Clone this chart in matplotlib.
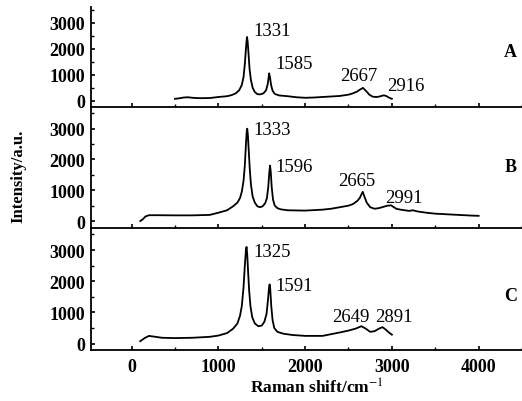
import matplotlib
matplotlib.use("Agg")
import matplotlib.pyplot as plt
from matplotlib.ticker import MultipleLocator

plt.rcParams['font.family'] = ['Liberation Serif', 'DejaVu Serif']
plt.rcParams['mathtext.fontset'] = 'stix'

# --------------------------------------------------
# Spectra
# --------------------------------------------------
xA = [500, 550, 600, 650, 700, 750, 800, 900, 1000, 1100, 1150, 1200, 1240, 1270,
      1290, 1305, 1318, 1328, 1331, 1338, 1348, 1360, 1375, 1395, 1420, 1450, 1480,
      1520, 1550, 1570, 1585, 1595, 1608, 1625, 1650, 1700, 1800, 1900, 2000, 2100,
      2200, 2300, 2400, 2500, 2550, 2600, 2630, 2667, 2700, 2740, 2780, 2830, 2870,
      2900, 2916, 2940, 2970, 3000]
yA = [70, 90, 120, 130, 110, 100, 95, 100, 140, 170, 210, 280, 400, 600,
      900, 1400, 2000, 2400, 2450, 2250, 1800, 1200, 800, 500, 330, 250, 240,
      280, 400, 650, 1050, 900, 600, 380, 260, 200, 170, 130, 110, 120,
      140, 160, 180, 230, 280, 350, 420, 490, 380, 230, 150, 140, 170,
      200, 200, 170, 110, 70]

xB = [100, 130, 160, 200, 300, 500, 700, 900, 1000, 1100, 1170, 1220, 1250, 1270,
      1290, 1305, 1318, 1328, 1333, 1340, 1350, 1362, 1375, 1395, 1420, 1450, 1480,
      1510, 1540, 1560, 1575, 1588, 1596, 1604, 1615, 1630, 1650, 1680, 1720, 1800,
      2000, 2200, 2300, 2400, 2500, 2550, 2600, 2630, 2650, 2665, 2680, 2710, 2750,
      2800, 2850, 2900, 2950, 2991, 3050, 3100, 3200, 3240, 3300, 3400, 3500, 3700,
      3900, 4000]
yB = [0, 60, 150, 190, 190, 185, 185, 200, 270, 350, 480, 600, 750, 950,
      1300, 1800, 2500, 2950, 3000, 2800, 2300, 1700, 1200, 800, 600, 480, 450,
      480, 580, 750, 1100, 1600, 1800, 1600, 1100, 700, 500, 420, 380, 350,
      340, 370, 400, 450, 500, 550, 650, 750, 870, 950, 820, 600, 450,
      400, 420, 460, 500, 510, 400, 370, 330, 350, 310, 270, 240, 210,
      180, 170]

xC = [100, 150, 200, 250, 350, 500, 700, 900, 1000, 1100, 1170, 1220, 1250, 1270,
      1290, 1305, 1318, 1325, 1333, 1343, 1355, 1370, 1390, 1420, 1460, 1500, 1530,
      1555, 1572, 1584, 1591, 1598, 1610, 1625, 1645, 1680, 1750, 1850, 2000, 2200,
      2400, 2500, 2580, 2649, 2700, 2750, 2800, 2850, 2891, 2930, 2970, 3000]
yC = [80, 180, 250, 230, 190, 180, 190, 220, 260, 340, 480, 650, 900, 1200,
      1800, 2500, 3000, 3100, 2850, 2300, 1700, 1200, 850, 650, 560, 580, 700,
      950, 1400, 1800, 1900, 1750, 1200, 750, 500, 380, 320, 280, 250, 250,
      360, 420, 480, 560, 480, 380, 400, 480, 530, 450, 350, 290]

peaksA = [(1331, 1399, 2690), (1585, 1653, 1420), (2667, 2405, 960), (2916, 2948, 580)]
peaksB = [(1333, 1399, 2970), (1596, 1653, 1770), (2665, 2382, 1320), (2991, 2925, 770)]
peaksC = [(1325, 1399, 2940), (1591, 1653, 1850), (2649, 2312, 860), (2891, 2809, 860)]

panels = [
    ("A", xA, yA, peaksA, (-250, 3600), 1900),
    ("B", xB, yB, peaksB, (-230, 3700), 1770),
    ("C", xC, yC, peaksC, (-200, 3700), 1530),
]

# axes boxes in figure fractions: left, bottom, width, height
boxes = [
    [0.174, 0.731, 0.826, 0.249],
    [0.174, 0.430, 0.826, 0.301],
    [0.174, 0.127, 0.826, 0.303],
]

fig = plt.figure(figsize=(5.22, 4.02), dpi=100)

for i, (name, xs, ys, peaks, ylim, name_y) in enumerate(panels):
    ax = fig.add_axes(boxes[i])
    ax.plot(xs, ys, color="black", lw=1.3)
    ax.set_xlim(-470, 4500)
    ax.set_ylim(*ylim)
    ax.set_yticks([0, 1000, 2000, 3000])
    ax.set_xticks([0, 1000, 2000, 3000, 4000])
    ax.xaxis.set_minor_locator(MultipleLocator(500))
    ax.yaxis.set_minor_locator(MultipleLocator(500))
    ax.tick_params(direction="in", length=3, width=1.2, pad=4)
    ax.tick_params(which="minor", direction="in", length=2, width=1.0)
    for s in ["top", "right"]:
        ax.spines[s].set_visible(False)
    for s in ["left", "bottom"]:
        ax.spines[s].set_linewidth(1.3)
    ax.patch.set_alpha(0)
    for lab in ax.get_yticklabels():
        lab.set_fontweight("bold")
        lab.set_fontsize(13)
    if i < 2:
        ax.tick_params(axis="x", labelbottom=False)
    else:
        ax.tick_params(axis="x", pad=6)
        for lab in ax.get_xticklabels():
            lab.set_fontweight("bold")
            lab.set_fontsize(13)
        ax.set_xlabel("Raman shift/cm$^{-1}$", fontsize=12.5, fontweight="bold", va="center")
        ax.xaxis.set_label_coords(0.524, -0.305)
    for val, tx, ty in peaks:
        ax.text(tx, ty, str(val), fontsize=13.5, va="center", ha="left")
    ax.text(4370, name_y, name, fontsize=13, fontweight="bold", va="center", ha="center")

fig.text(0.035, 0.562, "Intensity/a.u.", rotation=90, fontsize=12, fontweight="bold",
         va="center", ha="center")

fig.savefig("out.png", dpi=100)
